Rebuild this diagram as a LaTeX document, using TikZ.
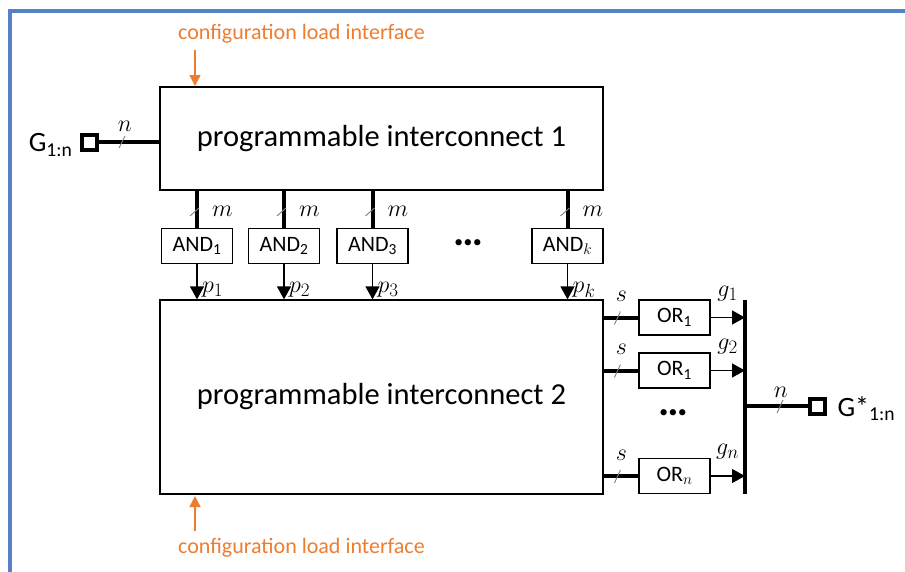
\RequirePackage{fix-cm}
\documentclass[tikz,border=0pt]{standalone}
\usepackage{fontspec}
\setmainfont{Carlito}
\usetikzlibrary{arrows.meta,calc}
\definecolor{frameblue}{RGB}{84,130,197}
\definecolor{cfgorange}{RGB}{237,125,49}
\DeclareMathSizes{24}{24}{19}{14}
\tikzset{
  block/.style={draw,line width=1.3pt,inner sep=0pt},
  gate/.style={draw,line width=1.1pt,minimum width=71pt,minimum height=35pt,inner sep=0pt,font=\fontsize{22}{24}\selectfont},
  bus/.style={line width=4pt},
  wire/.style={line width=1.3pt},
  sig/.style={wire,-{Triangle[length=13pt,width=14pt]}},
  cfg/.style={cfgorange,line width=1.4pt,-{Triangle[length=11pt,width=11pt]}},
  cfgtext/.style={cfgorange,font=\fontsize{22}{24}\selectfont},
  port/.style={draw,line width=4pt,minimum size=15pt,inner sep=0pt},
  slash/.style={gray,line width=0.9pt},
  mlabel/.style={inner sep=0pt,font=\fontsize{24}{26}\selectfont},
  bigtext/.style={font=\fontsize{30.5}{33}\selectfont},
  dots/.style={font=\fontsize{42}{44}\selectfont\bfseries}
}
\begin{document}
\begin{tikzpicture}[x=1pt,y=-1pt]
\useasboundingbox (0,0) rectangle (905,571);
% outer frame
\draw[frameblue,line width=4pt] (10,575) -- (10,11) -- (910,11);

% main interconnect blocks
\node[block,minimum width=443pt,minimum height=103pt] (pi1) at (381.5,138.5) {};
\node[bigtext] at (381.5,139) {programmable interconnect 1};
\node[block,minimum width=443pt,minimum height=194pt] (pi2) at (381.5,397) {};
\node[bigtext] at (381.5,397) {programmable interconnect 2};

% configuration load interfaces
\node[cfgtext] (cfgtop) at (301.5,34) {configuration load interface};
\coordinate (cfgtopend) at (195,86);
\draw[cfg] (195,50) -- (cfgtopend);
\node[cfgtext] (cfgbot) at (301.5,548) {configuration load interface};
\coordinate (cfgbotend) at (195,496);
\draw[cfg] (195,531) -- (cfgbotend);

% input port
\node[port] (gin) at (89.5,142) {};
\node[anchor=east,font=\fontsize{28}{30}\selectfont] (ginlbl) at (76,145) {G\textsubscript{1:n}};
\draw[bus] (gin.east) -- (gin.east -| pi1.west);
\draw[slash] (119,148) -- (125,136);
\node[mlabel] at (125,126) {$n$};

% AND gates
\foreach \name/\x/\lbl/\pl in {and1/197/AND\textsubscript{1}/$p_1$,
                               and2/284/AND\textsubscript{2}/$p_2$,
                               and3/372.5/AND\textsubscript{3}/$p_3$,
                               andk/567.5/AND$_k$/$p_k$}{
  \node[gate] (\name) at (\x,246) {\lbl};
  \draw[bus] (\name.north |- pi1.south) -- (\name.north);
  \draw[slash] ($(\name.north)+(-7,-12)$) -- ($(\name.north)+(2,-20)$);
  \node[mlabel,anchor=west] at ($(\name.north)+(15,-17)$) {$m$};
  \draw[sig] (\name.south) -- (\name.south |- pi2.north);
  \node[mlabel,anchor=west] at ($(\name.south)+(5,26)$) {\pl};
}
\node[dots] (anddots) at (468,243) {…};

% OR gates
\foreach \name/\y/\lbl/\gl in {or1/317.5/OR\textsubscript{1}/$g_1$,
                               or2/370.5/OR\textsubscript{1}/$g_2$,
                               orn/476/OR$_n$/$g_n$}{
  \node[gate] (\name) at (674.5,\y) {\lbl};
  \draw[bus] (\name.west -| pi2.east) -- (\name.west);
  \draw[slash] ($(\name.west)+(-24,7)$) -- ($(\name.west)+(-18,-6)$);
  \node[mlabel] at ($(\name.west)+(-17,-21)$) {$s$};
  \coordinate (\name-in) at (745,\y);
  \draw[sig] (\name.east) -- (\name-in);
  \node[mlabel] at ($(\name.east)+(17,-24)$) {\gl};
}
\node[dots] (ordots) at (673,413) {…};

% output bus and port
\coordinate (bustop) at (745,300);
\coordinate (busbot) at (745,494);
\draw[bus] (bustop) -- (busbot);
\node[port] (gout) at (817,406) {};
\draw[bus] (gout.west -| bustop) -- (gout.west);
\draw[slash] (777,413) -- (783,400);
\node[mlabel] at (781,392) {$n$};
\node[anchor=west,font=\fontsize{28}{30}\selectfont] (goutlbl) at (834,409) {G*\textsubscript{1:n}};
\end{tikzpicture}
\end{document}
